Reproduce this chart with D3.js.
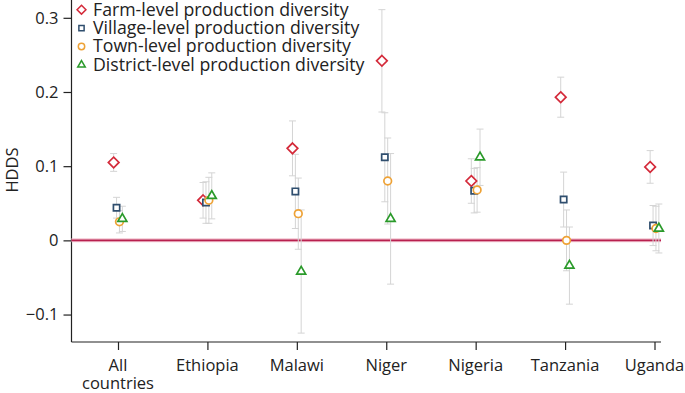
<!DOCTYPE html>
<html>
<head>
<meta charset="utf-8">
<script src="https://cdn.jsdelivr.net/npm/d3@7"></script>
<style>
  html, body { margin: 0; padding: 0; background: #fff; }
  svg { display: block; font-family: "Open Sans", Roboto, sans-serif; }
</style>
</head>
<body>
<svg id="chart" width="685" height="393"></svg>
<script>
const categories = ["All countries", "Ethiopia", "Malawi", "Niger", "Nigeria", "Tanzania", "Uganda"];
const seriesNames = [
  "Farm-level production diversity",
  "Village-level production diversity",
  "Town-level production diversity",
  "District-level production diversity"
];
// point estimates
const farmValues     = [0.105, 0.054, 0.124, 0.242, 0.080, 0.193, 0.099];
const villageValues  = [0.044, 0.051, 0.066, 0.112, 0.067, 0.055, 0.020];
const townValues     = [0.025, 0.054, 0.036, 0.080, 0.068, 0.000, 0.016];
const districtValues = [0.029, 0.060, -0.042, 0.029, 0.112, -0.034, 0.016];
// half-widths of the error bars
const farmErr     = [0.012, 0.024, 0.037, 0.069, 0.030, 0.027, 0.022];
const villageErr  = [0.014, 0.028, 0.050, 0.060, 0.030, 0.037, 0.027];
const townErr     = [0.015, 0.031, 0.048, 0.058, 0.030, 0.041, 0.030];
const districtErr = [0.017, 0.031, 0.083, 0.088, 0.038, 0.052, 0.033];
const yTicks = [-0.1, 0, 0.1, 0.2, 0.3];
const yTickLabels = ["\u22120.1", "0", "0.1", "0.2", "0.3"];

const seriesValues = [farmValues, villageValues, townValues, districtValues];
const seriesErrs = [farmErr, villageErr, townErr, districtErr];
const colors = ["#d42a3a", "#2f4e6e", "#eea236", "#2a9a2a"];
const shapes = [d3.symbolDiamond2, d3.symbolSquare2, d3.symbolCircle, d3.symbolTriangle2];
const sizes = [72, 50, 46, 58];
const offsets = [-4.35, -1.45, 1.45, 4.35];
const fontSize = 16.5;
const legendFontSize = 17.7;

const svg = d3.select("#chart");
const mLeft = 71.5, mRight = 661, mTop = 0, mBottom = 342;

const x = d3.scalePoint().domain(categories).range([118, 654.5]);
const y = d3.scaleLinear().domain([-0.137, 0.324]).range([mBottom, mTop]);

// axes
const yAxis = d3.axisLeft(y).tickValues(yTicks).tickFormat((d, i) => yTickLabels[i]).tickSize(8).tickPadding(5);
const gy = svg.append("g").attr("transform", `translate(${mLeft},0)`).call(yAxis);
gy.select(".domain").attr("d", `M0,${mTop}V${mBottom}`).attr("stroke", "#222").attr("stroke-width", 1.2);
gy.selectAll(".tick line").attr("stroke", "#222").attr("stroke-width", 1.2);
gy.selectAll(".tick text").attr("font-size", fontSize).attr("fill", "#222").attr("font-family", "'Open Sans', sans-serif");

const xAxis = d3.axisBottom(x).tickSize(8).tickFormat("");
const gx = svg.append("g").attr("transform", `translate(0,${mBottom})`).call(xAxis);
gx.select(".domain").attr("d", `M${mLeft},0H${mRight}`).attr("stroke", "#222").attr("stroke-width", 1.2);
gx.selectAll(".tick line").attr("stroke", "#222").attr("stroke-width", 1.2);

const xl = svg.append("g").attr("font-size", fontSize).attr("fill", "#222").attr("text-anchor", "middle");
categories.forEach(c => {
  const parts = c === "All countries" ? ["All", "countries"] : [c];
  parts.forEach((p, i) => {
    xl.append("text").attr("x", x(c)).attr("y", 370.5 + i * 18.5).text(p);
  });
});

svg.append("text")
  .attr("transform", `translate(18,170) rotate(-90)`)
  .attr("text-anchor", "middle")
  .attr("font-size", fontSize)
  .attr("fill", "#222")
  .text("HDDS");

// zero line
svg.append("line").attr("x1", mLeft).attr("x2", mRight).attr("y1", y(0)).attr("y2", y(0))
  .attr("stroke", "#f3c6d2").attr("stroke-width", 4);
svg.append("line").attr("x1", mLeft).attr("x2", mRight).attr("y1", y(0)).attr("y2", y(0))
  .attr("stroke", "#b8204f").attr("stroke-width", 1.8);

// error bars
const eb = svg.append("g").attr("stroke", "#d4d4d4").attr("stroke-width", 1);
seriesValues.forEach((vals, s) => {
  vals.forEach((v, i) => {
    const cx = x(categories[i]) + offsets[s];
    const lo = v - seriesErrs[s][i], hi = v + seriesErrs[s][i];
    eb.append("line").attr("x1", cx).attr("x2", cx).attr("y1", y(lo)).attr("y2", y(hi));
    eb.append("line").attr("x1", cx - 3.5).attr("x2", cx + 3.5).attr("y1", y(lo)).attr("y2", y(lo));
    eb.append("line").attr("x1", cx - 3.5).attr("x2", cx + 3.5).attr("y1", y(hi)).attr("y2", y(hi));
  });
});

// markers
seriesValues.forEach((vals, s) => {
  const g = svg.append("g");
  g.selectAll("path").data(vals).join("path")
    .attr("transform", (v, i) => `translate(${x(categories[i]) + offsets[s]},${y(v)})`)
    .attr("d", d3.symbol().type(shapes[s]).size(sizes[s]))
    .attr("fill", "#fff")
    .attr("stroke", colors[s])
    .attr("stroke-width", 1.7);
});

// legend
const lg = svg.append("g");
seriesNames.forEach((n, s) => {
  const by = 15.5 + s * 18.4;
  lg.append("path")
    .attr("transform", `translate(81.5,${by - 5.8})`)
    .attr("d", d3.symbol().type(shapes[s]).size(sizes[s] * 0.7))
    .attr("fill", "#fff").attr("stroke", colors[s]).attr("stroke-width", 1.5);
  lg.append("text").attr("x", 93).attr("y", by).attr("font-size", legendFontSize).attr("fill", "#222").text(n);
});
</script>
</body>
</html>
